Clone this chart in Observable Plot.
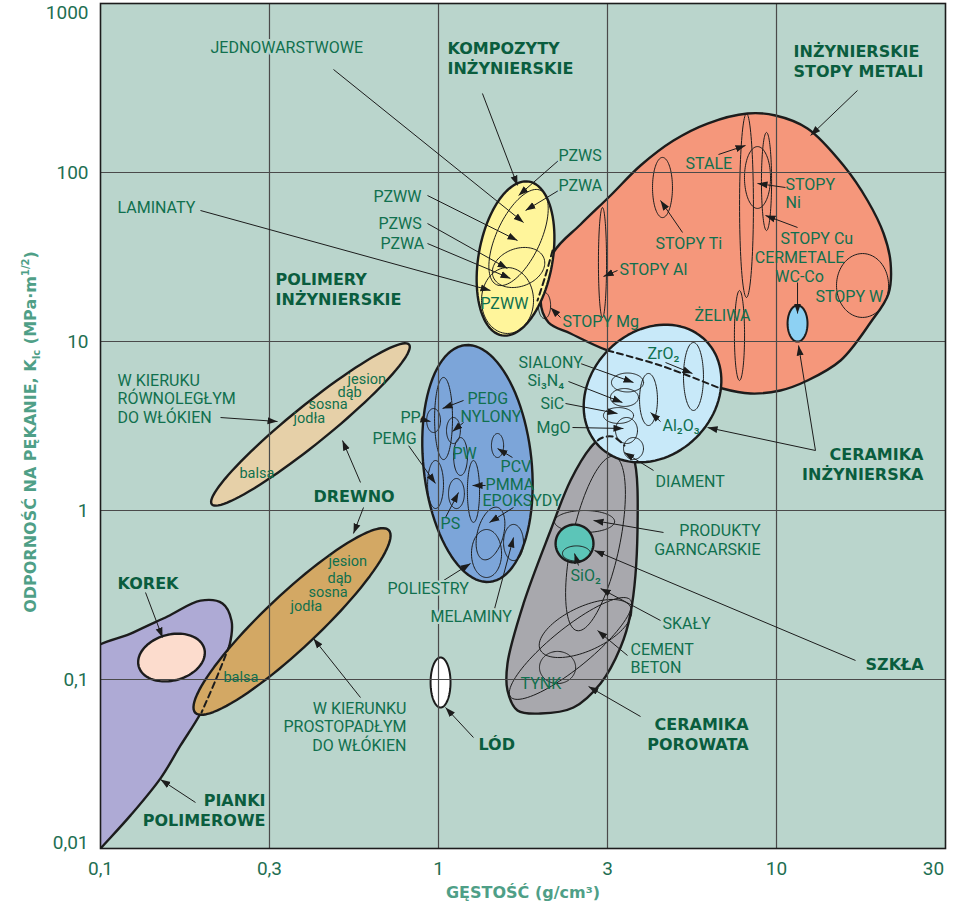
<!DOCTYPE html>
<html><head><meta charset="utf-8">
<script src="https://cdn.jsdelivr.net/npm/d3@7"></script>
<script src="https://cdn.jsdelivr.net/npm/@observablehq/plot@0.6"></script>
<style>
body{margin:0;background:#fff;}
#wrap{position:relative;width:953px;height:913px;}
#ytitle{position:absolute;left:31px;top:432px;transform:translate(-50%,-50%) rotate(-90deg);white-space:nowrap;font:bold 16px "DejaVu Sans";color:#4f9f87;z-index:2;}
#ytitle sub,#ytitle sup{font-size:10px;}
</style></head>
<body><div id="wrap"></div>
<script>
// ---- axes ----
const xTicks = [0.1, 0.3162, 1, 3.162, 10, 31.62];
const xTickLabels = ["0,1", "0,3", "1", "3", "10", "30"];
const yTicks = [0.01, 0.1, 1, 10, 100, 1000];
const yTickLabels = ["0,01", "0,1", "1", "10", "100", "1000"];
const xTitle = "GĘSTOŚĆ (g/cm³)";
const yTitleHtml = "ODPORNOŚĆ NA PĘKANIE, K<sub>Ic</sub> (MPa·m<sup>1/2</sup>)";

// ---- family outlines (density g/cm3, toughness MPa·m^1/2) ----
const foamDensity   = [0.0873, 0.1252, 0.1578, 0.1976, 0.2296, 0.2441, 0.2408, 0.2189, 0.1976, 0.1725, 0.1505, 0.1227, 0.1, 0.0873];
const foamToughness = [0.1295, 0.190, 0.236, 0.293, 0.282, 0.223, 0.159, 0.0987, 0.0629, 0.0407, 0.0260, 0.0157, 0.01, 0.0074];

const metalDensity   = [2.004, 2.189, 2.631, 3.228, 3.960, 4.958, 6.251, 8.208, 9.93, 12.35, 15.79, 18.59, 20.74, 21.75, 21.45, 18.97, 15.47, 12.35, 10.27, 8.378, 6.922, 4.538, 3.162, 2.458, 2.116];
const metalToughness = [17.48, 33.62, 49.23, 73.09, 110.0, 154.6, 194.9, 223.4, 217.5, 182.2, 110.0, 68.3, 43.57, 29.34, 19.23, 12.95, 7.72, 5.877, 5.130, 4.923, 5.272, 7.211, 8.847, 11.15, 12.95];

const porousDensity   = [2.817, 3.016, 3.272, 3.549, 3.775, 3.879, 3.699, 3.455, 3.016, 2.508, 2.004, 1.713, 1.600, 1.600, 1.785, 2.145, 2.458];
const porousToughness = [2.360, 2.667, 2.741, 2.424, 2.059, 0.7614, 0.2458, 0.1546, 0.0947, 0.0683, 0.0629, 0.0656, 0.0861, 0.1244, 0.2817, 0.7614, 1.505];

// ellipses: centre (density, toughness), half-spreads in decades, tilt in degrees
const familyEllipses = [
  {name: "KOREK",        density: 0.1622, toughness: 0.1349, rx: 0.201, ry: 0.136, angle: 15},
  {name: "DREWNO par",   density: 0.418,  toughness: 3.23,   rx: 0.751, ry: 0.112, angle: 39},
  {name: "DREWNO perp",  density: 0.3687, toughness: 0.2204, rx: 0.787, ry: 0.160, angle: 43.3},
  {name: "POLIMERY",     density: 1.304,  toughness: 1.897,  rx: 0.704, ry: 0.320, angle: 96},
  {name: "KOMPOZYTY",    density: 1.690,  toughness: 30.98,  rx: 0.462, ry: 0.219, angle: 80},
  {name: "CERAMIKA",     density: 4.297,  toughness: 4.923,  rx: 0.444, ry: 0.367, angle: 45},
  {name: "SZKŁA",        density: 2.526,  toughness: 0.6378, rx: 0.112, ry: 0.112, angle: 0},
  {name: "LÓD",          density: 1.014,  toughness: 0.0960, rx: 0.059, ry: 0.148, angle: 0},
  {name: "WC-Co",        density: 11.54,  toughness: 12.78,  rx: 0.059, ry: 0.107, angle: 0}
];

const polymerSubs = [
  {name: "PEDG",      density: 1.035, toughness: 3.502,  rx: 0.053, ry: 0.243, angle: 0},
  {name: "PP",        density: 0.967, toughness: 3.408,  rx: 0.041, ry: 0.071, angle: 0},
  {name: "NYLONY",    density: 1.107, toughness: 2.974,  rx: 0.041, ry: 0.077, angle: 0},
  {name: "PW",        density: 1.162, toughness: 2.087,  rx: 0.041, ry: 0.112, angle: 0},
  {name: "PEMG",      density: 0.980, toughness: 1.425,  rx: 0.047, ry: 0.142, angle: 0},
  {name: "PS",        density: 1.130, toughness: 1.260,  rx: 0.047, ry: 0.089, angle: 0},
  {name: "PMMA",      density: 1.269, toughness: 1.296,  rx: 0.036, ry: 0.183, angle: 0},
  {name: "PCV",       density: 1.495, toughness: 2.424,  rx: 0.036, ry: 0.071, angle: 0},
  {name: "EPOKSYDY",  density: 1.425, toughness: 0.731,  rx: 0.077, ry: 0.160, angle: -15},
  {name: "POLIESTRY", density: 1.387, toughness: 0.5566, rx: 0.089, ry: 0.142, angle: 0},
  {name: "MELAMINY",  density: 1.667, toughness: 0.6466, rx: 0.059, ry: 0.107, angle: 0}
];
const metalSubs = [
  {name: "STALE",    density: 8.151, toughness: 63.77, rx: 0.041, ry: 0.544, angle: 0},
  {name: "STOPY Ni", density: 8.785, toughness: 93.4,  rx: 0.077, ry: 0.183, angle: 0},
  {name: "STOPY Cu", density: 9.342, toughness: 88.45, rx: 0.030, ry: 0.290, angle: 0},
  {name: "STOPY Ti", density: 4.599, toughness: 81.5,  rx: 0.059, ry: 0.178, angle: 0},
  {name: "STOPY Al", density: 3.056, toughness: 29.34, rx: 0.024, ry: 0.325, angle: 0},
  {name: "STOPY Mg", density: 2.059, toughness: 16.33, rx: 0.036, ry: 0.077, angle: 0},
  {name: "ŻELIWA",   density: 7.771, toughness: 10.85, rx: 0.030, ry: 0.266, angle: 0},
  {name: "STOPY W",  density: 17.97, toughness: 21.45, rx: 0.154, ry: 0.189, angle: 0}
];
const compositeSubs = [
  {name: "PZWS/PZWA", density: 1.725, toughness: 41.24, rx: 0.308, ry: 0.130, angle: 65},
  {name: "PZWS/PZWA dolne", density: 1.725, toughness: 27.41, rx: 0.160, ry: 0.112, angle: 20},
  {name: "PZWW", density: 1.600, toughness: 17.48, rx: 0.154, ry: 0.195, angle: 0}
];
const porousSubs = [
  {name: "PRODUKTY GARNCARSKIE", density: 2.704, toughness: 0.861,  rx: 0.178, ry: 0.065, angle: 0},
  {name: "SKAŁY",                density: 2.914, toughness: 0.6378, rx: 0.142, ry: 0.527, angle: -12},
  {name: "CEMENT BETON",         density: 2.722, toughness: 0.2003, rx: 0.296, ry: 0.130, angle: 25},
  {name: "BETON zakres",         density: 2.458, toughness: 0.1526, rx: 0.456, ry: 0.118, angle: 39},
  {name: "TYNK",                 density: 2.250, toughness: 0.1178, rx: 0.107, ry: 0.095, angle: 0},
  {name: "SiO2",                 density: 2.560, toughness: 0.5566, rx: 0.083, ry: 0.045, angle: 0}
];
const ceramicSubs = [
  {name: "ZrO2",    density: 5.68,  toughness: 6.208, rx: 0.059, ry: 0.201, angle: 0},
  {name: "Al2O3",   density: 4.181, toughness: 4.538, rx: 0.053, ry: 0.154, angle: 0},
  {name: "SIALONY", density: 3.624, toughness: 5.72,  rx: 0.095, ry: 0.056, angle: 0},
  {name: "Si3N4",   density: 3.549, toughness: 4.663, rx: 0.083, ry: 0.053, angle: 0},
  {name: "SiC",     density: 3.408, toughness: 3.648, rx: 0.089, ry: 0.047, angle: 0},
  {name: "MgO",     density: 3.599, toughness: 2.974, rx: 0.065, ry: 0.077, angle: 0},
  {name: "DIAMENT", density: 3.775, toughness: 2.327, rx: 0.059, ry: 0.065, angle: 0}
];

// hidden (dashed) boundaries
const foamHiddenDensity = [0.2408, 0.2189, 0.1990];
const foamHiddenToughness = [0.159, 0.0987, 0.0638];
const compositeEdgeDensity = [2.175, 2.073, 1.963];
const compositeEdgeToughness = [34.55, 24.58, 17.48];
const metalHiddenDensity = [3.162, 4.538, 6.828];
const metalHiddenToughness = [8.847, 7.211, 5.272];
const porousHiddenDensity = [2.817, 3.016, 3.272, 3.549];
const porousHiddenToughness = [2.360, 2.667, 2.741, 2.424];

// ---- annotations ----
const arrows = [
  ["JEDNOWARSTWOWE", 0.4890, 406.9, 1.785, 50.6],
  ["KOMPOZYTY", 1.349, 293.4, 1.713, 83.78],
  ["PZWS g", 2.265, 117.8, 1.725, 73.09],
  ["PZWA g", 2.265, 78.25, 1.809, 59.58],
  ["PZWW", 0.9277, 73.09, 1.713, 39.59],
  ["PZWS", 0.9277, 49.9, 1.600, 27.04],
  ["PZWA", 0.9277, 38.0, 1.633, 23.6],
  ["LAMINATY", 0.1976, 59.58, 1.425, 20.04],
  ["STOPY METALI", 17.36, 305.6, 12.61, 165.6],
  ["STALE", 6.735, 127.8, 8.096, 144.5],
  ["STOPY Ni", 10.63, 81.5, 8.785, 86.1],
  ["STOPY Cu", 11.54, 47.28, 9.278, 55.67],
  ["STOPY Ti", 5.272, 44.16, 4.538, 68.3],
  ["STOPY Al", 3.385, 26.31, 3.077, 24.25],
  ["STOPY Mg", 2.296, 13.87, 2.145, 15.89],
  ["WC-Co", 11.54, 22.34, 11.54, 14.64],
  ["CERAMIKA INŻ 1", 13.04, 2.265, 11.62, 9.47],
  ["CERAMIKA INŻ 2", 13.04, 2.265, 6.251, 3.098],
  ["ZrO2", 4.695, 7.511, 5.642, 6.467],
  ["Al2O3", 4.538, 3.362, 4.239, 3.80],
  ["SIALONY", 2.631, 7.41, 3.775, 5.72],
  ["Si3N4", 2.424, 5.799, 3.501, 4.356],
  ["SiC", 2.375, 4.297, 3.385, 3.750],
  ["MgO", 2.491, 3.098, 3.525, 3.056],
  ["DIAMENT", 4.327, 1.725, 3.549, 2.204],
  ["PEDG", 1.186, 4.477, 1.028, 4.014],
  ["NYLONY", 1.186, 3.317, 1.100, 2.934],
  ["PP", 0.8727, 3.502, 0.947, 3.362],
  ["PEMG", 0.8151, 2.424, 0.9797, 1.445],
  ["PCV", 1.655, 2.059, 1.495, 2.327],
  ["PMMA", 1.378, 1.406, 1.261, 1.406],
  ["EPOKSYDY", 1.667, 1.042, 1.415, 0.849],
  ["PS", 1.049, 0.9091, 1.146, 1.278],
  ["POLIESTRY", 1.035, 0.3853, 1.244, 0.4857],
  ["MELAMINY", 1.455, 0.2491, 1.667, 0.6921],
  ["DREWNO par", 0.5878, 1.465, 0.5200, 2.595],
  ["DREWNO perp", 0.6000, 1.042, 0.5603, 0.731],
  ["W KIERUKU", 0.2265, 3.549, 0.3340, 3.362],
  ["KOREK", 0.1359, 0.3272, 0.1526, 0.1772],
  ["PIANKI", 0.1910, 0.01872, 0.1505, 0.02560],
  ["W KIERUNKU", 0.5878, 0.0782, 0.4267, 0.1748],
  ["LÓD", 1.269, 0.04537, 1.049, 0.0683],
  ["PRODUKTY", 4.631, 0.7413, 2.875, 0.8727],
  ["SZKŁA", 17.13, 0.1296, 2.894, 0.5798],
  ["SiO2", 2.595, 0.4727, 2.526, 0.5566],
  ["SKAŁY", 4.538, 0.2234, 3.016, 0.3455],
  ["CEMENT", 3.624, 0.1387, 2.954, 0.1949],
  ["POROWATA", 3.960, 0.0604, 2.779, 0.0909]
];

// [text, density, toughness]
const labelsOutside = [
  ["JEDNOWARSTWOWE", 0.2115, 549.2],
  ["LAMINATY", 0.1123, 62.08],
  ["PZWS", 2.265, 126.1],
  ["PZWA", 2.265, 83.78],
  ["PZWW", 0.6423, 72.11],
  ["PZWS", 0.6645, 49.9],
  ["PZWA", 0.6736, 38.0],
  ["SIALONY", 1.725, 7.511],
  ["Si₃N₄", 1.834, 5.877],
  ["SiC", 2.003, 4.297],
  ["MgO", 1.950, 3.098],
  ["DIAMENT", 4.385, 1.484],
  ["W KIERUKU\nRÓWNOLEGŁYM\nDO WŁÓKIEN", 0.1123, 4.599],
  ["PP", 0.7720, 3.549],
  ["PEMG", 0.6378, 2.667],
  ["POLIESTRY", 0.7066, 0.3455],
  ["MELAMINY", 0.9470, 0.2359],
  ["SKAŁY", 4.599, 0.2145],
  ["CEMENT\nBETON", 3.699, 0.1340]
];
const labelsInside = [
  ["PZWW", 1.331, 16.78],
  ["STALE", 5.380, 113.1],
  ["STOPY\nNi", 10.63, 75.6],
  ["STOPY Ti", 4.385, 38.0],
  ["STOPY Cu", 10.27, 40.68],
  ["STOPY W", 13.04, 18.46],
  ["STOPY Al", 3.431, 26.67],
  ["STOPY Mg", 2.327, 13.13],
  ["ŻELIWA", 5.720, 14.25],
  ["ZrO₂", 4.153, 8.492],
  ["Al₂O₃", 4.599, 3.184],
  ["PEDG", 1.218, 4.599],
  ["NYLONY", 1.162, 3.599],
  ["PW", 1.100, 2.175],
  ["PCV", 1.526, 1.822],
  ["PMMA", 1.378, 1.425],
  ["EPOKSYDY", 1.349, 1.146],
  ["PS", 1.014, 0.8377],
  ["SiO₂", 2.458, 0.4125],
  ["TYNK", 1.748, 0.0947]
];
const woodLabels = [
  ["jesion", 0.5380, 6.040],
  ["dąb", 0.5025, 5.060],
  ["sosna", 0.4125, 4.297],
  ["jodła", 0.3724, 3.549],
  ["balsa", 0.2577, 1.679],
  ["jesion", 0.4727, 0.506],
  ["dąb", 0.4695, 0.4014],
  ["sosna", 0.4125, 0.3317],
  ["jodła", 0.3648, 0.2741],
  ["balsa", 0.2311, 0.1042]
];
const labelsMiddle = [["CERMETALE\nWC-Co", 11.70, 27.79]];
const labelsEnd = [
  ["PRODUKTY\nGARNCARSKIE", 8.967, 0.6736],
  ["W KIERUNKU\nPROSTOPADŁYM\nDO WŁÓKIEN", 0.8039, 0.0527]
];
const boldStart = [
  ["KOMPOZYTY\nINŻYNIERSKIE", 1.063, 479.2],
  ["INŻYNIERSKIE\nSTOPY METALI", 11.23, 459.9],
  ["POLIMERY\nINŻYNIERSKIE", 0.3295, 20.59],
  ["DREWNO", 0.4267, 1.227],
  ["KOREK", 0.1123, 0.3750],
  ["LÓD", 1.313, 0.04181],
  ["SZKŁA", 18.34, 0.1243]
];
const boldEnd = [
  ["CERAMIKA\nINŻYNIERSKA", 27.22, 1.897],
  ["PIANKI\nPOLIMEROWE", 0.3077, 0.01701],
  ["CERAMIKA\nPOROWATA", 8.265, 0.04792]
];

// ---- styles ----
const bg = "#bad5cc", ink = "#1c1c1c";
const labelInk = "#10704e", boldInk = "#0a5d3e", tickInk = "#1e6f52", titleInk = "#4f9f87";
const fills = {
  foam: "#aeaad5", korek: "#fcdccd", woodPar: "#e6d0a8", woodPerp: "#d3a864",
  polymer: "#7ca5d9", composite: "#fff59b", metal: "#f5977b", ceramic: "#c8e9f9",
  porous: "#a8a8ad", glass: "#5cc5b8", ice: "#ffffff", wcco: "#8dd1f3"
};

// ---- helpers ----
function ellipsePoints(e, steps = 96) {
  const cx = Math.log10(e.density), cy = Math.log10(e.toughness);
  const th = (e.angle || 0) * Math.PI / 180;
  const pts = [];
  for (let i = 0; i < steps; i++) {
    const t = 2 * Math.PI * i / steps;
    const u = e.rx * Math.cos(t), v = e.ry * Math.sin(t);
    const X = u * Math.cos(th) - v * Math.sin(th);
    const Y = u * Math.sin(th) + v * Math.cos(th);
    pts.push({id: e.name, x: Math.pow(10, cx + X / 2), y: Math.pow(10, cy + Y)});
  }
  return pts;
}
const pairs = (xs, ys) => xs.map((d, i) => ({x: d, y: ys[i]}));
const fam = name => familyEllipses.find(e => e.name === name);
const shape = (pts, fill, sw, curve = "linear-closed", clip = false) =>
  Plot.line(pts, {x: "x", y: "y", fill, stroke: ink, strokeWidth: sw, curve, clip, strokeLinejoin: "round"});
const thin = list => Plot.line(list.flatMap(e => ellipsePoints(e)),
  {x: "x", y: "y", z: "id", fill: "none", stroke: ink, strokeWidth: 1, curve: "linear-closed"});
const dashed = (xs, ys) => Plot.line(pairs(xs, ys),
  {x: "x", y: "y", stroke: ink, strokeWidth: 2, strokeDasharray: "6,4", curve: "catmull-rom"});
const toObj = ([text, density, toughness]) => ({text, density, toughness});

function filledArrow(color, context) {
  const doc = (context && context.document) || document;
  const ns = "http://www.w3.org/2000/svg";
  const m = doc.createElementNS(ns, "marker");
  m.setAttribute("viewBox", "-10 -4 10 8");
  m.setAttribute("markerWidth", 10);
  m.setAttribute("markerHeight", 8);
  m.setAttribute("markerUnits", "userSpaceOnUse");
  m.setAttribute("orient", "auto");
  m.setAttribute("refX", 0);
  m.setAttribute("refY", 0);
  const p = doc.createElementNS(ns, "path");
  p.setAttribute("d", "M-10,-3.5L0,0L-10,3.5Z");
  p.setAttribute("fill", color);
  p.setAttribute("stroke", "none");
  m.appendChild(p);
  return m;
}

const arrowData = arrows.map(([label, x1, y1, x2, y2]) => ({label, x1, y1, x2, y2}));
const textOpts = {x: "density", y: "toughness", text: "text", fontFamily: "Roboto", fontSize: 16, fill: labelInk, lineHeight: 1.15};
const boldOpts = {x: "density", y: "toughness", text: "text", fontFamily: "DejaVu Sans", fontWeight: "bold", fontSize: 16, fill: boldInk, lineHeight: 1.25, stroke: bg, strokeWidth: 3};
const xFmt = d => xTickLabels[xTicks.indexOf(d)];
const yFmt = d => yTickLabels[yTicks.indexOf(d)];
const axisStyle = {tickSize: 0, fontSize: 19, fontFamily: "Roboto", color: tickInk, label: null};

const chart = Plot.plot({
  width: 953, height: 913,
  marginLeft: 100, marginRight: 8, marginTop: 3, marginBottom: 65,
  x: {type: "log", domain: [0.1, 31.62]},
  y: {type: "log", domain: [0.01, 1000]},
  style: {fontFamily: "Roboto", background: "transparent", overflow: "visible"},
  marks: [
    Plot.frame({fill: bg, stroke: "none"}),
    shape(pairs(foamDensity, foamToughness), fills.foam, 2.4, "catmull-rom-closed", true),
    shape(ellipsePoints(fam("KOREK")), fills.korek, 2.4),
    shape(ellipsePoints(fam("DREWNO par")), fills.woodPar, 2.4),
    shape(ellipsePoints(fam("DREWNO perp")), fills.woodPerp, 2.4),
    dashed(foamHiddenDensity, foamHiddenToughness),
    shape(ellipsePoints(fam("POLIMERY")), fills.polymer, 2.4),
    thin(polymerSubs),
    shape(pairs(metalDensity, metalToughness), fills.metal, 2.4, "catmull-rom-closed"),
    thin(metalSubs),
    shape(ellipsePoints(fam("WC-Co")), fills.wcco, 2),
    shape(ellipsePoints(fam("KOMPOZYTY")), fills.composite, 2.4),
    thin(compositeSubs),
    dashed(compositeEdgeDensity, compositeEdgeToughness),
    shape(pairs(porousDensity, porousToughness), fills.porous, 2.4, "catmull-rom-closed"),
    thin(porousSubs.filter(e => e.name !== "SiO2")),
    shape(ellipsePoints(fam("SZKŁA")), fills.glass, 2.4),
    thin(porousSubs.filter(e => e.name === "SiO2")),
    shape(ellipsePoints(fam("CERAMIKA")), fills.ceramic, 2.4),
    thin(ceramicSubs),
    dashed(metalHiddenDensity, metalHiddenToughness),
    dashed(porousHiddenDensity, porousHiddenToughness),
    shape(ellipsePoints(fam("LÓD")), fills.ice, 2),
    Plot.gridX(xTicks.slice(1, 5), {stroke: "#4a4a4a", strokeOpacity: 1, strokeWidth: 1.2}),
    Plot.gridY(yTicks.slice(1, 5), {stroke: "#4a4a4a", strokeOpacity: 1, strokeWidth: 1.2}),
    Plot.frame({stroke: ink, strokeWidth: 1.6}),
    Plot.link(arrowData, {x1: "x1", y1: "y1", x2: "x2", y2: "y2", stroke: ink, strokeWidth: 1, markerEnd: filledArrow}),
    Plot.text(labelsOutside.map(toObj), {...textOpts, textAnchor: "start", stroke: bg, strokeWidth: 4}),
    Plot.text(labelsInside.map(toObj), {...textOpts, textAnchor: "start"}),
    Plot.text(woodLabels.map(toObj), {...textOpts, textAnchor: "start", fontSize: 14.5}),
    Plot.text(labelsMiddle.map(toObj), {...textOpts, textAnchor: "middle"}),
    Plot.text(labelsEnd.map(toObj), {...textOpts, textAnchor: "end", stroke: bg, strokeWidth: 4}),
    Plot.text(boldStart.map(toObj), {...boldOpts, textAnchor: "start"}),
    Plot.text(boldEnd.map(toObj), {...boldOpts, textAnchor: "end"}),
    Plot.axisX(xTicks.slice(0, 5), {...axisStyle, tickFormat: xFmt, tickPadding: 13}),
    Plot.axisX(xTicks.slice(5), {...axisStyle, tickFormat: xFmt, tickPadding: 13, dx: -12}),
    Plot.axisY(yTicks.slice(1, 5), {...axisStyle, tickFormat: yFmt, tickPadding: 12}),
    Plot.axisY(yTicks.slice(0, 1), {...axisStyle, tickFormat: yFmt, tickPadding: 12, dy: -6}),
    Plot.axisY(yTicks.slice(5), {...axisStyle, tickFormat: yFmt, tickPadding: 12, dy: 9}),
    Plot.text([xTitle], {text: d => d, frameAnchor: "bottom", dy: 49, fontFamily: "DejaVu Sans", fontWeight: "bold", fontSize: 16, fill: titleInk})
  ]
});
const wrap = document.getElementById("wrap");
wrap.appendChild(chart);
const yt = document.createElement("div");
yt.id = "ytitle";
yt.innerHTML = yTitleHtml;
wrap.appendChild(yt);
</script>
</body></html>
